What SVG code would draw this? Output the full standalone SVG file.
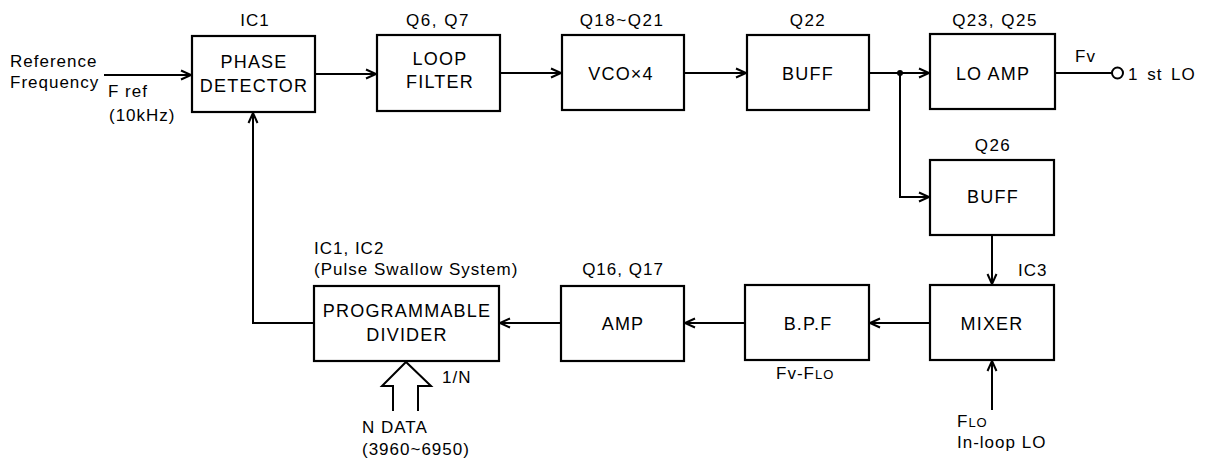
<svg xmlns="http://www.w3.org/2000/svg" width="1206" height="459" viewBox="0 0 1206 459">
<style>
.box{fill:#fff;stroke:#000;stroke-width:2.2}
.ln{fill:none;stroke:#000;stroke-width:2}
.bt{font-family:"Liberation Sans",Arial,sans-serif;font-size:18px;letter-spacing:1.2px;text-anchor:middle;fill:#000}
.lb{font-family:"Liberation Sans",Arial,sans-serif;font-size:17px;letter-spacing:1px;fill:#000}
.mid{text-anchor:middle}
.q{letter-spacing:1.5px}
.sm{font-size:13px}
</style>
<defs>
<marker id="ah" markerUnits="userSpaceOnUse" markerWidth="14" markerHeight="12" refX="11" refY="6" orient="auto">
<path d="M1,1.5 L11,6 L1,10.5" fill="none" stroke="#000" stroke-width="2"/>
</marker>
</defs>
<rect width="1206" height="459" fill="#fff"/>
<g id="connectors">
<path class="ln" d="M104,75 H191" marker-end="url(#ah)"/>
<path class="ln" d="M315,74 H376" marker-end="url(#ah)"/>
<path class="ln" d="M500,73 H561" marker-end="url(#ah)"/>
<path class="ln" d="M684,73 H746" marker-end="url(#ah)"/>
<path class="ln" d="M869,73 H929" marker-end="url(#ah)"/>
<path class="ln" d="M1055,73 H1112"/>
<circle cx="1117.5" cy="73" r="5.5" fill="#fff" stroke="#000" stroke-width="2"/>
<circle cx="900" cy="73" r="3" fill="#000"/>
<path class="ln" d="M900,73 V197 H929" marker-end="url(#ah)"/>
<path class="ln" d="M992,235 V284" marker-end="url(#ah)"/>
<path class="ln" d="M992,410 V361" marker-end="url(#ah)"/>
<path class="ln" d="M930,323 H870" marker-end="url(#ah)"/>
<path class="ln" d="M745,323 H685" marker-end="url(#ah)"/>
<path class="ln" d="M561,323 H500" marker-end="url(#ah)"/>
<path class="ln" d="M314,323 H253 V113" marker-end="url(#ah)"/>
<path class="ln" d="M393,411 V386 H382 L406,362 L431,386 H418 V411"/>
</g>
<g id="input-labels">
<text class="lb" x="10" y="67" letter-spacing="0.6">Reference</text>
<text class="lb" x="10" y="88" letter-spacing="0.6">Frequency</text>
<text class="lb" x="108" y="97" letter-spacing="1.2">F ref</text>
<text class="lb" x="109" y="121" letter-spacing="0.6">(10kHz)</text>
</g>
<g id="phase-detector">
<rect class="box" x="192" y="36" width="123" height="76"/>
<text class="lb mid" x="255" y="26">IC1</text>
<text class="bt" x="254" y="68">PHASE</text>
<text class="bt" x="254" y="92" letter-spacing="0.7">DETECTOR</text>
</g>
<g id="loop-filter">
<rect class="box" x="377" y="35" width="123" height="76"/>
<text class="lb mid q" x="438" y="26">Q6, Q7</text>
<text class="bt" x="440" y="65">LOOP</text>
<text class="bt" x="440" y="88">FILTER</text>
</g>
<g id="vco">
<rect class="box" x="562" y="35" width="122" height="75"/>
<text class="lb mid q" x="622" y="26">Q18~Q21</text>
<text class="bt" x="621" y="80" letter-spacing="1.6">VCO×4</text>
</g>
<g id="buff1">
<rect class="box" x="747" y="35" width="122" height="75"/>
<text class="lb mid q" x="808" y="26">Q22</text>
<text class="bt" x="808" y="80" letter-spacing="1.7">BUFF</text>
</g>
<g id="lo-amp">
<rect class="box" x="930" y="34" width="125" height="75"/>
<text class="lb mid q" x="995" y="26">Q23, Q25</text>
<text class="bt" x="993" y="80" letter-spacing="1">LO AMP</text>
<text class="lb" x="1075" y="62">Fv</text>
<text class="lb" x="1128" y="80" letter-spacing="1.4" word-spacing="3">1 st LO</text>
</g>
<g id="buff2">
<rect class="box" x="930" y="160" width="124" height="75"/>
<text class="lb mid q" x="993" y="151">Q26</text>
<text class="bt" x="993" y="203" letter-spacing="1.7">BUFF</text>
</g>
<g id="mixer">
<rect class="box" x="930" y="285" width="124" height="75"/>
<text class="lb" x="1018" y="276" letter-spacing="0.8">IC3</text>
<text class="bt" x="992" y="330" letter-spacing="1">MIXER</text>
<text class="lb" x="957" y="427" letter-spacing="1.2">F<tspan class="sm">LO</tspan></text>
<text class="lb" x="957" y="448" letter-spacing="1.2">In-loop LO</text>
</g>
<g id="bpf">
<rect class="box" x="745" y="285" width="124" height="75"/>
<text class="bt" x="808" y="330">B.P.F</text>
<text class="lb" x="776" y="379" letter-spacing="1.6">Fv-F<tspan class="sm">LO</tspan></text>
</g>
<g id="amp">
<rect class="box" x="561" y="286" width="123" height="75"/>
<text class="lb mid" x="623" y="275" letter-spacing="1.6">Q16, Q17</text>
<text class="bt" x="623" y="330" letter-spacing="1.5">AMP</text>
</g>
<g id="prog-divider">
<rect class="box" x="314" y="286" width="185" height="75"/>
<text class="lb" x="314" y="254" letter-spacing="0.5">IC1, IC2</text>
<text class="lb" x="314" y="275" letter-spacing="0.8">(Pulse Swallow System)</text>
<text class="bt" x="407" y="317" letter-spacing="1.4">PROGRAMMABLE</text>
<text class="bt" x="407" y="341">DIVIDER</text>
<text class="lb" x="442" y="383" letter-spacing="4">1/N</text>
<text class="lb" x="362" y="433" letter-spacing="2">N DATA</text>
<text class="lb" x="362" y="455" letter-spacing="2.2">(3960~6950)</text>
</g>
</svg>
